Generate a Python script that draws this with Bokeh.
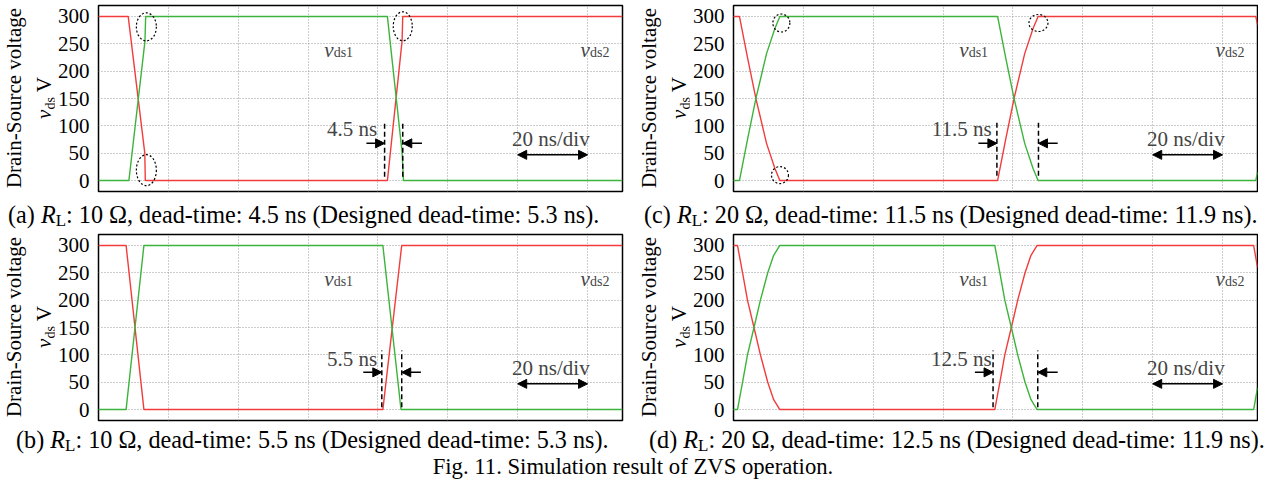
import numpy as np
from bokeh.plotting import figure
from bokeh.models import Range1d, FixedTicker, Label, Arrow, NormalHead, Div
from bokeh.layouts import column, row
from bokeh.embed import file_html
from bokeh.resources import INLINE

FONT = "Liberation Serif"
RED = "#f23c3c"
GREEN = "#3cb43c"

# ---------------- data (time in ns, voltage in V) ----------------
y_ticks = [0, 50, 100, 150, 200, 250, 300]
x_grid = [20, 40, 60, 80, 100, 120, 140]

a_t_ds2 = [0, 8.5, 13.25, 13.4, 82.7, 86.9, 87.1, 150]
a_v_ds2 = [300, 300, 50, 0, 0, 255, 300, 300]
a_t_ds1 = [0, 8.7, 13.3, 13.5, 82.7, 86.9, 87.3, 150]
a_v_ds1 = [0, 0, 255, 300, 300, 52, 0, 0]

b_t_ds2 = [0, 7.9, 13.0, 81.4, 86.8, 150]
b_v_ds2 = [300, 300, 0, 0, 300, 300]
b_t_ds1 = [0, 7.9, 13.0, 81.4, 86.6, 150]
b_v_ds1 = [0, 0, 300, 300, 0, 0]

c_t = [0, 1.7, 4.0, 6.45, 9.46, 11.85, 13.27, 75.6, 77.9, 80.35, 83.36, 85.75, 87.2, 149.5, 150]
c_v_ds2 = [300, 300, 225, 149, 68, 22, 0, 0, 75, 151, 232, 278, 300, 300, 285]
c_v_ds1 = [0, 0, 75, 151, 232, 278, 300, 300, 225, 149, 68, 22, 0, 0, 15]

d_t = [0, 1.14, 2.6, 4.0, 5.87, 7.7, 9.8, 11.5, 13.26,
       74.8, 76.26, 77.66, 79.53, 81.36, 83.46, 85.16, 86.92, 148.9, 150]
d_v_ds2 = [300, 300, 250, 200, 150, 100, 50, 18, 0,
           0, 50, 100, 150, 200, 250, 282, 300, 300, 260]
d_v_ds1 = [0, 0, 50, 100, 150, 200, 250, 282, 300,
           300, 250, 200, 150, 100, 50, 18, 0, 0, 40]

dead_labels = ["4.5 ns", "5.5 ns", "11.5 ns", "12.5 ns"]
dead_text_x = [79.8, 79.8, 73.9, 73.9]
dead_text_y = [95, 93, 95, 93]
dash_x = [[81.9, 87.1], [81.1, 86.8], [75.4, 87.3], [74.3, 87.1]]
dash_y = [[7, 107], [4, 108], [9, 107], [4, 108]]
arrow_y = [68, 68, 68, 68]
arrow_from = [[76.7, 92.6], [75.8, 92.3], [70.1, 92.8], [69.1, 92.8]]

div_text = "20 ns/div"
div_text_xy = (129.5, 76)
div_arrow = (120, 140, 47)

vlabel_x = [64.6, 138.0]
vlabel_y = 239
vlabel_sub = ["ds1", "ds2"]

# dotted ellipses (centre time, centre voltage, width px, height px)
ell_a = dict(x=[13.7, 13.7, 87.1], y=[281, 19, 282], w=[20, 20, 19], h=[28, 31, 29])
ell_c = dict(x=[13.7, 13.3, 87.3], y=[288, 10, 288], w=[17, 17, 19], h=[18, 17, 17])

cap_letters = ["a", "b", "c", "d"]
cap_rl = ["10", "10", "20", "20"]
cap_dead = ["4.5", "5.5", "11.5", "12.5"]
cap_design = ["5.3", "5.3", "11.9", "11.9"]
fig_title = "Fig. 11. Simulation result of ZVS operation."
y_title = "Drain-Source voltage"


def make_panel(idx, t2, v2, t1, v1, width, height, bl, br, bt, bb, ell=None):
    p = figure(width=width, height=height, x_range=Range1d(0, 150), y_range=Range1d(-20, 320),
               output_backend="svg", toolbar_location=None, x_axis_location=None,
               min_border_left=bl, min_border_right=br, min_border_top=bt, min_border_bottom=bb)
    p.background_fill_color = "white"
    p.border_fill_color = "white"
    p.outline_line_color = "black"
    p.outline_line_width = 1.5
    ax = p.yaxis[0]
    ax.ticker = FixedTicker(ticks=y_ticks)
    ax.major_tick_line_color = None
    ax.minor_tick_line_color = None
    ax.major_tick_in = 0
    ax.major_tick_out = 0
    ax.axis_line_color = None
    ax.major_label_standoff = 9
    ax.major_label_text_font = FONT
    ax.major_label_text_font_size = "21px"
    ax.major_label_text_color = "black"
    p.xgrid.ticker = FixedTicker(ticks=x_grid)
    p.ygrid.ticker = FixedTicker(ticks=y_ticks)
    for g in (p.xgrid[0], p.ygrid[0]):
        g.grid_line_color = "#9a9a9a"
        g.grid_line_dash = "1 2"
        g.grid_line_width = 1

    p.line(t2, v2, line_color=RED, line_width=1.4)
    p.line(t1, v1, line_color=GREEN, line_width=1.4)

    for xv, sub in zip(vlabel_x, vlabel_sub):
        p.add_layout(Label(x=xv, y=vlabel_y, text="v", text_font=FONT, text_font_style="italic",
                           text_font_size="21px", text_baseline="alphabetic"))
        p.add_layout(Label(x=xv, y=vlabel_y, x_offset=9.5, y_offset=-3, text=sub, text_font=FONT,
                           text_font_size="14px", text_baseline="alphabetic"))

    p.segment(x0=dash_x[idx], y0=[dash_y[idx][0]] * 2, x1=dash_x[idx], y1=[dash_y[idx][1]] * 2,
              line_color="black", line_width=1.5, line_dash="5 3")
    for k in range(2):
        p.add_layout(Arrow(end=NormalHead(size=9, fill_color="black", line_color="black"),
                           x_start=arrow_from[idx][k], y_start=arrow_y[idx],
                           x_end=dash_x[idx][k], y_end=arrow_y[idx], line_width=1.5))
    p.add_layout(Label(x=dead_text_x[idx], y=dead_text_y[idx], text=dead_labels[idx], text_font=FONT,
                       text_font_size="21px", text_align="right", text_baseline="middle"))

    p.add_layout(Label(x=div_text_xy[0], y=div_text_xy[1], text=div_text, text_font=FONT,
                       text_font_size="21px", text_align="center", text_baseline="middle"))
    p.add_layout(Arrow(start=NormalHead(size=9, fill_color="black", line_color="black"),
                       end=NormalHead(size=9, fill_color="black", line_color="black"),
                       x_start=div_arrow[0], y_start=div_arrow[2], x_end=div_arrow[1], y_end=div_arrow[2],
                       line_width=1.5))

    if ell is not None:
        p.ellipse(x=ell["x"], y=ell["y"], width=ell["w"], height=ell["h"],
                  width_units="screen", height_units="screen",
                  fill_color=None, line_color="black", line_dash="2 2", line_width=1.2)
    return p


def ylabel_div(width, height, frame_top, frame_h, b1, b2):
    T = frame_top + frame_h
    html = (f'<div style="position:relative;width:{width}px;height:{height}px;">'
            f'<div style="position:absolute;left:0;top:0;width:{frame_h}px;height:{width}px;'
            f'transform-origin:0 0;transform:translate(0px,{T}px) rotate(-90deg);'
            "font-family:'Liberation Serif';font-size:21px;line-height:21px;color:#000;white-space:nowrap;\">"
            f'<div style="position:absolute;left:0;width:{frame_h}px;top:{b1 - 17.6:.1f}px;text-align:center">{y_title}</div>'
            f'<div style="position:absolute;left:0;width:{frame_h}px;top:{b2 - 17.6:.1f}px;text-align:center">'
            '<i>v</i><span style="font-size:14px;position:relative;top:4px">ds</span> V</div>'
            '</div></div>')
    return Div(text=html, width=width, height=height, margin=0)


pa = make_panel(0, a_t_ds2, a_v_ds2, a_t_ds1, a_v_ds1, 576, 196, 41, 8, 1, 9, ell_a)
pc = make_panel(2, c_t, c_v_ds2, c_t, c_v_ds1, 569, 196, 41, 1, 1, 9, ell_c)
pb = make_panel(1, b_t_ds2, b_v_ds2, b_t_ds1, b_v_ds1, 576, 195, 41, 8, 4, 5)
pd = make_panel(3, d_t, d_v_ds2, d_t, d_v_ds1, 569, 195, 41, 1, 4, 5)

la = ylabel_div(46, 196, 1, 186, 14, 44)
lc = ylabel_div(59, 196, 1, 186, 27, 57)
lb = ylabel_div(46, 195, 4, 186, 14, 44)
ld = ylabel_div(59, 195, 4, 186, 27, 57)


def caption(i, width, pad):
    html = ('<div style="font-family:\'Liberation Serif\';font-size:24.2px;line-height:30px;'
            f'white-space:nowrap;color:#000;padding-left:{pad}px">'
            f'({cap_letters[i]}) <i>R</i><span style="font-size:70%;position:relative;top:0.2em">L</span>: '
            f'{cap_rl[i]} &Omega;, dead-time: {cap_dead[i]} ns (Designed dead-time: {cap_design[i]} ns).</div>')
    return Div(text=html, width=width, height=30, margin=0)


cap_a = caption(0, 622, 0)
cap_c = caption(2, 628, 14)
cap_b = caption(1, 622, 8)
cap_d = caption(3, 628, 19)
title = Div(text=('<div style="font-family:\'Liberation Serif\';font-size:22.7px;line-height:22px;'
                  'white-space:nowrap;color:#000;text-align:center;width:1234px;padding-left:16px;'
                  f'padding-top:1px">{fig_title}</div>'),
            width=1250, height=27, margin=0)

layout = column(row(la, pa, lc, pc), row(cap_a, cap_c), row(lb, pb, ld, pd), row(cap_b, cap_d), title,
                margin=(4, 0, 0, 8))

open("out.html", "w").write(file_html(layout, INLINE))
